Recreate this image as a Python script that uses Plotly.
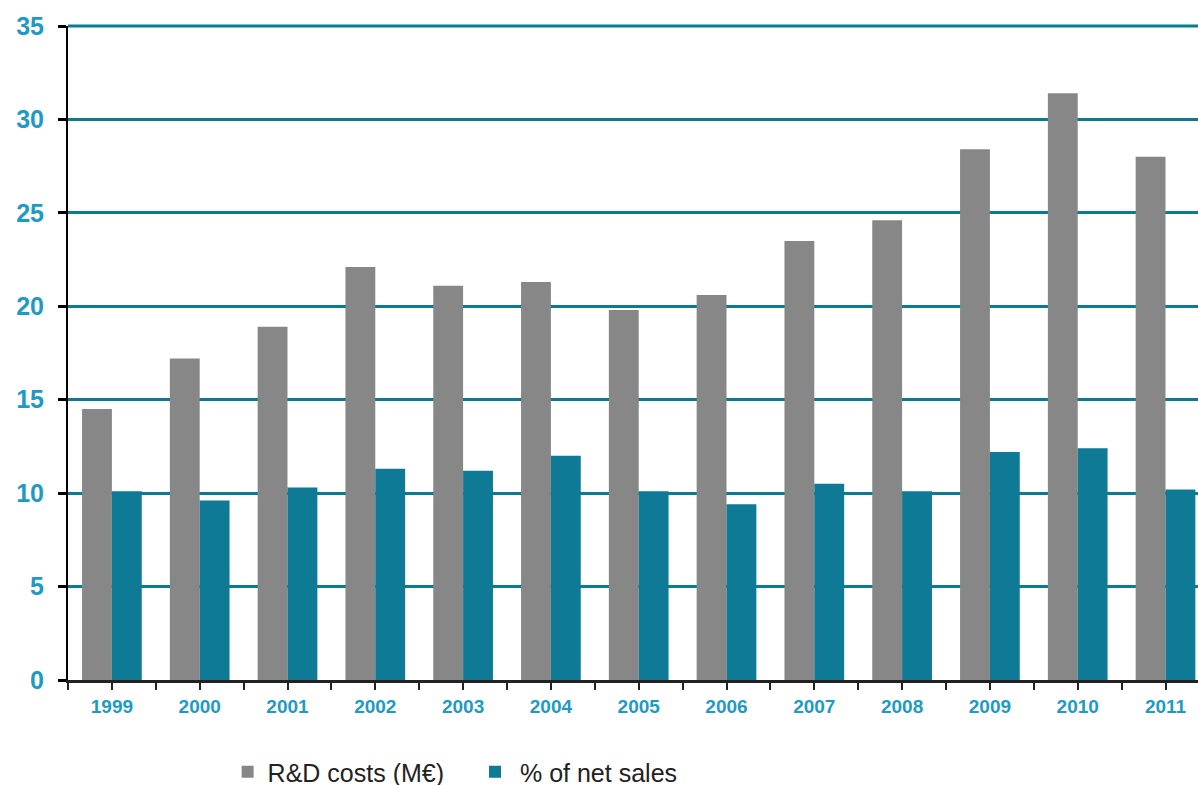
import plotly.graph_objects as go

years = ["1999", "2000", "2001", "2002", "2003", "2004", "2005",
         "2006", "2007", "2008", "2009", "2010", "2011"]
rd_costs = [14.5, 17.2, 18.9, 22.1, 21.1, 21.3, 19.8, 20.6, 23.5, 24.6, 28.4, 31.4, 28.0]
pct_sales = [10.1, 9.6, 10.3, 11.3, 11.2, 12.0, 10.1, 9.4, 10.5, 10.1, 12.2, 12.4, 10.2]
y_ticks = [0, 5, 10, 15, 20, 25, 30, 35]

xs = list(range(len(years)))
tickvals = []
ticktext = []
for i, y in enumerate(years):
    tickvals += [i - 0.5, i]
    ticktext += ["", y]
tickvals.append(len(years) - 0.5)
ticktext.append("")

fig = go.Figure()
fig.add_trace(go.Bar(x=xs, y=rd_costs, name="R&D costs (M€)", legend="legend",
                     marker=dict(color="#878787", line=dict(width=0))))
fig.add_trace(go.Bar(x=xs, y=pct_sales, name="% of net sales", legend="legend2",
                     marker=dict(color="#0e7a96", line=dict(width=0))))

label_color = "#1d9bc4"
grid_color = "#0b7a93"
fnt = "Liberation Sans, Arial, sans-serif"
leg_font = dict(size=25, color="#222222", family=fnt)
leg_y = (785 - 772) / 785
fig.update_layout(
    width=1198, height=785,
    margin=dict(l=68, r=0, t=26, b=105),
    paper_bgcolor="white", plot_bgcolor="white",
    barmode="group", bargap=0.32, bargroupgap=0,
    font=dict(family=fnt),
    showlegend=True,
    legend=dict(orientation="h", xref="container", yref="container",
                x=0.19, xanchor="left", y=leg_y, yanchor="middle",
                font=leg_font, itemwidth=30),
    legend2=dict(orientation="h", xref="container", yref="container",
                 x=470 / 1198, xanchor="left", y=leg_y, yanchor="middle",
                 font=leg_font, itemwidth=40),
    xaxis=dict(
        range=[-0.5, 12.37],
        tickmode="array", tickvals=tickvals, ticktext=ticktext,
        ticks="outside", ticklen=7, tickwidth=2, tickcolor="#222222",
        showline=True, linecolor="#222222", linewidth=3,
        showgrid=False, zeroline=False, automargin=False,
        tickfont=dict(size=19, color=label_color, family=fnt, weight="bold"),
    ),
    yaxis=dict(
        range=[y_ticks[0], y_ticks[-1]],
        tickmode="array", tickvals=y_ticks,
        ticks="outside", ticklen=8, tickwidth=3, tickcolor="#000000",
        showline=True, linecolor="#000000", linewidth=2,
        showgrid=True, gridcolor=grid_color, gridwidth=3,
        zeroline=False, automargin=False,
        ticklabelstandoff=9,
        tickfont=dict(size=25, color=label_color, family=fnt, weight="bold"),
    ),
)
# top gridline at the top edge of the value axis (not clipped)
fig.add_shape(type="line", xref="paper", yref="paper", x0=0, x1=1,
              y0=1, y1=1, layer="below",
              line=dict(color=grid_color, width=3))

fig.write_html("out.html")
